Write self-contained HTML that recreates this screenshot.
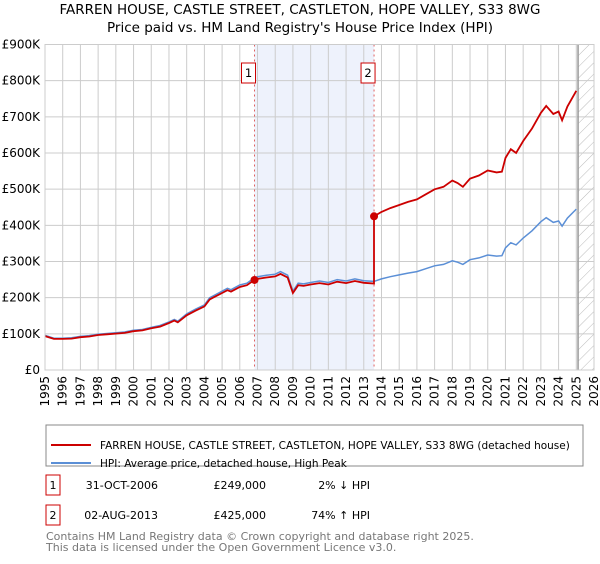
<!DOCTYPE html>
<html><head><meta charset="utf-8"><style>
body{margin:0;background:#fff;font-family:"DejaVu Sans","Liberation Sans",sans-serif;}
svg text{font-family:"DejaVu Sans","Liberation Sans",sans-serif;}
</style></head><body>
<svg id="chart" width="600" height="560" xmlns="http://www.w3.org/2000/svg">
<defs><pattern id="hatch" width="8" height="8" patternUnits="userSpaceOnUse" patternTransform="rotate(45)"><line x1="0" y1="0" x2="0" y2="8" stroke="#bbb" stroke-width="1"/></pattern></defs>
<text x="300" y="14" text-anchor="middle" font-size="13.5">FARREN HOUSE, CASTLE STREET, CASTLETON, HOPE VALLEY, S33 8WG</text>
<text x="300" y="32" text-anchor="middle" font-size="13.5">Price paid vs. HM Land Registry's House Price Index (HPI)</text>
<g id="plot"></g>
<g>
<rect x="46" y="425" width="537" height="41" fill="#fff" stroke="#888"/>
<line x1="51" y1="445" x2="91" y2="445" stroke="#cc0000" stroke-width="2"/>
<text x="100" y="449" font-size="10.5">FARREN HOUSE, CASTLE STREET, CASTLETON, HOPE VALLEY, S33 8WG (detached house)</text>
<line x1="51" y1="463" x2="91" y2="463" stroke="#5b8fd6" stroke-width="2"/>
<text x="100" y="467" font-size="10.5">HPI: Average price, detached house, High Peak</text>
</g>
<g font-size="11">
<rect x="46" y="475" width="14" height="20" fill="#fff" stroke="#cc0000"/>
<text x="53" y="489" text-anchor="middle">1</text>
<text x="158" y="489" text-anchor="end">31-OCT-2006</text>
<text x="266" y="489" text-anchor="end">£249,000</text>
<text x="370" y="489" text-anchor="end">2% ↓ HPI</text>
<rect x="46" y="505" width="14" height="20" fill="#fff" stroke="#cc0000"/>
<text x="53" y="519" text-anchor="middle">2</text>
<text x="158" y="519" text-anchor="end">02-AUG-2013</text>
<text x="266" y="519" text-anchor="end">£425,000</text>
<text x="370" y="519" text-anchor="end">74% ↑ HPI</text>
</g>
<text x="46" y="540" font-size="11" fill="#777">Contains HM Land Registry data © Crown copyright and database right 2025.</text>
<text x="46" y="551" font-size="11" fill="#777">This data is licensed under the Open Government Licence v3.0.</text>
</svg>
<script>
const hpiYears=[1995,1995.5,1996,1996.5,1997,1997.5,1998,1998.5,1999,1999.5,2000,2000.5,2001,2001.5,2002,2002.3,2002.5,2003,2003.5,2004,2004.3,2004.5,2005,2005.3,2005.5,2006,2006.4,2006.83,2007,2007.5,2008,2008.3,2008.7,2009,2009.3,2009.6,2010,2010.5,2011,2011.5,2012,2012.5,2013,2013.58,2014,2014.5,2015,2015.5,2016,2016.5,2017,2017.5,2018,2018.3,2018.6,2019,2019.5,2020,2020.5,2020.8,2021,2021.3,2021.6,2022,2022.5,2023,2023.3,2023.7,2024,2024.2,2024.5,2025];
const hpiValues=[96,88,88,89,93,95,99,101,103,105,110,112,118,123,133,140,135,155,168,180,200,205,218,226,222,235,240,255,258,262,265,272,262,218,240,238,242,246,242,250,246,252,247,245,252,258,263,268,272,280,288,292,302,298,292,305,310,318,315,316,338,352,346,365,385,410,421,408,412,398,420,445];
const saleYears=[2006.83,2013.58];
const salePrices=[249,425];
const saleLabels=["1","2"];
const yTicks=[0,100,200,300,400,500,600,700,800,900];
const yTickLabels=["£0","£100K","£200K","£300K","£400K","£500K","£600K","£700K","£800K","£900K"];
const xTicks=[1995,1996,1997,1998,1999,2000,2001,2002,2003,2004,2005,2006,2007,2008,2009,2010,2011,2012,2013,2014,2015,2016,2017,2018,2019,2020,2021,2022,2023,2024,2025,2026];

const X0=45,X1=594,Y0=370,Y1=44.5,xmin=1995,xmax=2026,ymax=900;
const sx=v=>X0+(v-xmin)/(xmax-xmin)*(X1-X0);
const sy=v=>Y0-v/ymax*(Y0-Y1);
const NS="http://www.w3.org/2000/svg";
const plot=document.getElementById('plot');
function mk(tag,attrs,parent){const e=document.createElementNS(NS,tag);for(const k in attrs)e.setAttribute(k,attrs[k]);(parent||plot).appendChild(e);return e;}
function hpiAt(t){for(let i=0;i<hpiYears.length-1;i++){if(t<=hpiYears[i+1]){const f=(t-hpiYears[i])/(hpiYears[i+1]-hpiYears[i]);return hpiValues[i]+f*(hpiValues[i+1]-hpiValues[i]);}}return hpiValues[hpiValues.length-1];}

let r=mk('rect',{x:X0,y:Y1,width:X1-X0,height:Y0-Y1,fill:'#fff'});


let sh=mk('rect',{x:sx(saleYears[0]),y:Y1,width:sx(saleYears[1])-sx(saleYears[0]),height:Y0-Y1,fill:'#eef2fc'});


const lastYear=hpiYears[hpiYears.length-1];
let ht=mk('rect',{x:sx(lastYear+0.1),y:Y1,width:X1-sx(lastYear+0.1),height:Y0-Y1,fill:'url(#hatch)'});


xTicks.forEach((t,i)=>{
 let g=mk('line',{x1:sx(t),x2:sx(t),y1:Y1,y2:Y0,stroke:'#ccc','stroke-width':1});
 
 
 let tx=mk('text',{x:0,y:0,'font-size':12,'text-anchor':'end',transform:`translate(${sx(t)+4},${Y0+6}) rotate(-90)`});
 tx.textContent=t;
 
 
});
yTicks.forEach((t,i)=>{
 let g=mk('line',{x1:X0,x2:X1,y1:sy(t),y2:sy(t),stroke:'#ccc','stroke-width':1});
 
 
 let tx=mk('text',{x:X0-5,y:sy(t)+4,'font-size':12,'text-anchor':'end'});
 tx.textContent=yTickLabels[i];
 
 
});
let el=mk('line',{x1:sx(lastYear+0.1),x2:sx(lastYear+0.1),y1:Y1,y2:Y0,stroke:'#999','stroke-width':1.5});


saleYears.forEach((t,i)=>{
 let v=mk('line',{x1:sx(t),x2:sx(t),y1:Y1,y2:Y0,stroke:'#e06060','stroke-width':1,'stroke-dasharray':'2,3'});
 
 
});
let hp=hpiYears.map((t,i)=>`${sx(t).toFixed(1)},${sy(hpiValues[i]).toFixed(1)}`).join(' ');
let hl=mk('polyline',{points:hp,fill:'none',stroke:'#5b8fd6','stroke-width':1.5});


let pts=[];
const ratio0=salePrices[0]/hpiAt(saleYears[0]);
hpiYears.forEach((t,i)=>{if(t<saleYears[1])pts.push([t,hpiValues[i]*ratio0]);});
pts.push([saleYears[1],hpiAt(saleYears[1])*ratio0]);
const ratio1=salePrices[1]/hpiAt(saleYears[1]);
pts.push([saleYears[1],salePrices[1]]);
hpiYears.forEach((t,i)=>{if(t>saleYears[1])pts.push([t,hpiValues[i]*ratio1]);});
let pl=mk('polyline',{points:pts.map(p=>`${sx(p[0]).toFixed(1)},${sy(p[1]).toFixed(1)}`).join(' '),fill:'none',stroke:'#cc0000','stroke-width':1.8});


saleYears.forEach((t,i)=>{
 let c=mk('circle',{cx:sx(t),cy:sy(salePrices[i]),r:4,fill:'#cc0000'});
 
 
 let b=mk('rect',{x:sx(t)-13,y:63,width:14,height:20,fill:'#fff',stroke:'#cc0000'});
 
 
 let bt=mk('text',{x:sx(t)-6,y:77,'font-size':11.5,'text-anchor':'middle'});
 bt.textContent=saleLabels[i];
 
 
});
let bd=mk('rect',{x:X0,y:Y1,width:X1-X0,height:Y0-Y1,fill:'none',stroke:'#ccc'});


</script>
</body></html>
